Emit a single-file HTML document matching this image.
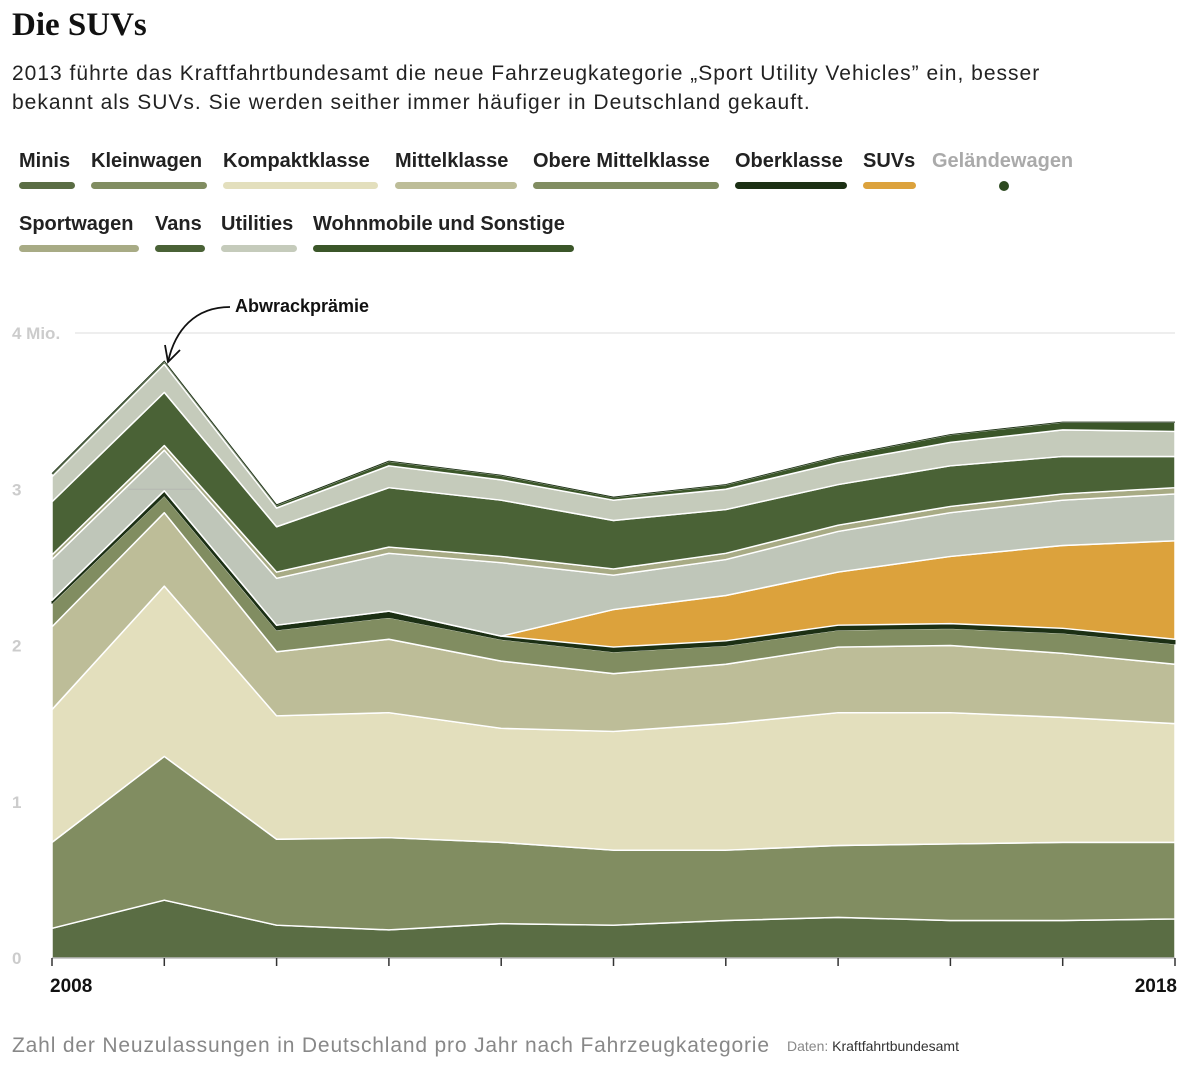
<!DOCTYPE html>
<html><head><meta charset="utf-8"><style>
body{margin:0;background:#fff;width:1200px;height:1068px;overflow:hidden;font-family:"Liberation Sans",sans-serif}
#t{position:absolute;left:12px;top:7px;font:bold 33px "Liberation Serif",serif;color:#111}
#s{position:absolute;left:12px;top:59px;font-size:21px;letter-spacing:1px;line-height:29px;color:#222;width:1100px;white-space:nowrap}
.lg{position:absolute;font:bold 20px "Liberation Sans Narrow","Liberation Sans",sans-serif;color:#222}
.lg i{display:block;height:7px;border-radius:4px;margin-top:9px}
</style></head><body>
<div id="t">Die SUVs</div>
<div id="s">2013 führte das Kraftfahrtbundesamt die neue Fahrzeugkategorie „Sport Utility Vehicles” ein, besser<br>bekannt als SUVs. Sie werden seither immer häufiger in Deutschland gekauft.</div>
<div id="legend"></div>
<svg id="c" width="1200" height="1068" style="position:absolute;left:0;top:0"></svg>
<script>
const years=[2008,2009,2010,2011,2012,2013,2014,2015,2016,2017,2018];
const seriesNames=["Minis","Kleinwagen","Kompaktklasse","Mittelklasse","Obere Mittelklasse","Oberklasse","SUVs","Geländewagen","Sportwagen","Vans","Utilities","Wohnmobile und Sonstige"];
const minis=[0.19,0.37,0.21,0.18,0.22,0.21,0.24,0.26,0.24,0.24,0.25];
const kleinwagen=[0.55,0.92,0.55,0.59,0.52,0.48,0.45,0.46,0.49,0.50,0.49];
const kompakt=[0.85,1.09,0.79,0.80,0.73,0.76,0.81,0.85,0.84,0.80,0.76];
const mittel=[0.53,0.47,0.41,0.47,0.43,0.37,0.38,0.42,0.43,0.41,0.38];
const obereMittel=[0.15,0.11,0.14,0.14,0.14,0.14,0.12,0.11,0.11,0.13,0.13];
const oberklasse=[0.02,0.03,0.03,0.04,0.02,0.03,0.03,0.03,0.03,0.03,0.03];
const suvs=[0,0,0,0,0,0.24,0.29,0.34,0.43,0.53,0.63];
const gelaende=[0.26,0.26,0.30,0.37,0.47,0.22,0.23,0.26,0.28,0.29,0.30];
const sportwagen=[0.03,0.03,0.04,0.04,0.04,0.04,0.04,0.04,0.04,0.04,0.04];
const vans=[0.34,0.34,0.29,0.38,0.36,0.31,0.28,0.26,0.26,0.24,0.20];
const utilities=[0.16,0.18,0.12,0.14,0.13,0.13,0.13,0.14,0.15,0.17,0.16];
const wohnmobile=[0.02,0.02,0.02,0.03,0.03,0.02,0.03,0.04,0.05,0.05,0.06];
const yTicks=[0,1,2,3,4];
const yTickLabels=["0","1","2","3","4 Mio."];
const allSeries=[minis,kleinwagen,kompakt,mittel,obereMittel,oberklasse,suvs,gelaende,sportwagen,vans,utilities,wohnmobile];
const colors=["#5a6d44","#818d61","#e3dfbd","#bdbd98","#818d61","#1c3014","#dca23c","#bfc6b9","#a8ab85","#4a6236","#c5cbbb","#3b5629"];
const X0=52,X1=1175,Y0=958,PX=156.25;
const xs=y=>X0+(y-years[0])*(X1-X0)/(years[years.length-1]-years[0]);
const ys=v=>Y0-v*PX;
const NS="http://www.w3.org/2000/svg";
const svg=document.getElementById('c');
function mk(t,a){const e=document.createElementNS(NS,t);for(const k in a)e.setAttribute(k,a[k]);svg.appendChild(e);return e;}
yTicks.forEach((v,i)=>{
  if(v===4){const g=mk('line',{x1:75,x2:X1,y1:ys(v),y2:ys(v),stroke:'#ddd','stroke-width':1});
  
  }
  const t=mk('text',{x:12,y:ys(v)+6,fill:'#ccc','font-size':17,'font-weight':'bold','font-family':'Liberation Sans Narrow, Liberation Sans, sans-serif'});
  t.textContent=yTickLabels[i];
  
  
});
let base=years.map(()=>0);
allSeries.forEach((s,si)=>{
  const top=base.map((b,i)=>b+s[i]);
  let d='M'+years.map((y,i)=>xs(y)+','+ys(top[i])).join('L');
  for(let i=years.length-1;i>=0;i--)d+='L'+xs(years[i])+','+ys(base[i]);
  d+='Z';
  const p=mk('path',{d:d,fill:colors[si],stroke:si===5?'#1c3014':'#fff','stroke-width':si===5?1:1.5,'stroke-linejoin':'round'});
  
  
  base=top;
});
const tl=mk('polyline',{points:years.map((y,i)=>xs(y)+','+ys(base[i])).join(' '),fill:'none',stroke:'#1c3014','stroke-width':1});


const g3=mk('line',{x1:128,x2:195,y1:ys(3),y2:ys(3),stroke:'#aaa','stroke-width':1,opacity:0.5});


const ax=mk('line',{x1:X0,x2:X1,y1:Y0,y2:Y0,stroke:'#999','stroke-width':1});


years.forEach(y=>{const t=mk('line',{x1:xs(y),x2:xs(y),y1:Y0,y2:Y0+8,stroke:'#333','stroke-width':1.5});

});
[[years[0],'start'],[years[years.length-1],'end']].forEach(([y,a])=>{
  const t=mk('text',{x:a==='start'?xs(y)-2:xs(y)+2,y:992,'text-anchor':a,'font-size':19,'font-weight':'bold',fill:'#111','font-family':'Liberation Sans Narrow, Liberation Sans, sans-serif'});
  t.textContent=y;
  
  
});
const ar=mk('path',{d:'M230,307 C195,307 175,330 168,362',fill:'none',stroke:'#111','stroke-width':1.8});


const ah=mk('path',{d:'M165,345 L168,362 L180,350',fill:'none',stroke:'#111','stroke-width':1.8});


const at=mk('text',{x:235,y:312,'font-size':18,'font-weight':'bold',fill:'#111','font-family':'Liberation Sans Narrow, Liberation Sans, sans-serif'});
at.textContent='Abwrackprämie';


const f1=mk('text',{x:12,y:1052,'font-size':21,fill:'#888',textLength:757,lengthAdjust:'spacing'});
f1.textContent='Zahl der Neuzulassungen in Deutschland pro Jahr nach Fahrzeugkategorie';


const f2=mk('text',{x:787,y:1051,'font-size':14,fill:'#888'});
f2.innerHTML='Daten: <tspan fill="#333">Kraftfahrtbundesamt</tspan>';


const legPos=[[19,150,56],[91,150,116],[223,150,155],[395,150,122],[533,150,186],[735,150,112],[863,150,53],[932,150,0],[19,213,120],[155,213,50],[221,213,76],[313,213,261]];
const leg=document.getElementById('legend');
seriesNames.forEach((n,i)=>{
  const d=document.createElement('div');d.className='lg';
  
  
  d.style.left=legPos[i][0]+'px';d.style.top=legPos[i][1]+'px';
  d.textContent=n;
  const b=document.createElement('i');
  if(i===7){d.style.color='#aaa';b.style.cssText='width:10px;height:10px;border-radius:5px;background:#2d4a20;margin:8px 0 0 67px';}
  else{b.style.width=legPos[i][2]+'px';b.style.background=colors[i];}
  d.appendChild(b);leg.appendChild(d);
});
</script>
</body></html>
